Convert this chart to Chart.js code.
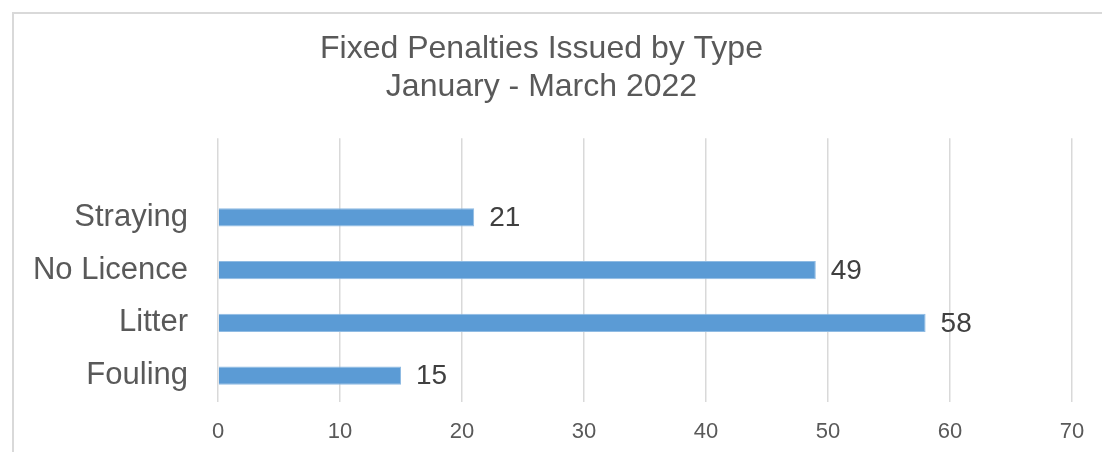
<!DOCTYPE html>
<html>
<head>
<meta charset="utf-8">
<script src="https://cdn.jsdelivr.net/npm/chart.js@4"></script>
<style>
    html, body { margin: 0; padding: 0; background: #fff; }
    #wrap { position: relative; width: 1102px; height: 452px; }
    #frame { position: absolute; left: 12px; top: 12px; right: -5px; bottom: -5px; border: 2px solid #d9d9d9; }
    canvas { position: absolute; left: 0; top: 0; }
</style>
</head>
<body>
<div id="wrap">
    <div id="frame"></div>
    <canvas id="penalidades" width="1102" height="452"></canvas>
</div>
<script>
// Dados do gráfico (linha vazia no topo, como no original)
const categorias = ['', 'Straying', 'No Licence', 'Litter', 'Fouling'];
const quantidades = [null, 21, 49, 58, 15];
const tituloLinhas = ['Fixed Penalties Issued by Type', 'January - March 2022'];
const escalaX = { min: 0, max: 70, passo: 10 };

const fonte = '"Liberation Sans", Arial, sans-serif';

// Rótulos de valor ao lado das barras
const rotulosValor = {
    id: 'rotulosValor',
    afterDatasetsDraw(chart) {
        const ctx = chart.ctx;
        const meta = chart.getDatasetMeta(0);
        ctx.save();
        ctx.font = '28px ' + fonte;
        ctx.fillStyle = '#404040';
        ctx.textBaseline = 'middle';
        ctx.textAlign = 'left';
        meta.data.forEach((barra, i) => {
            const v = quantidades[i];
            if (v === null) return;
            ctx.fillText(String(v), barra.x + 15, barra.y + 1);
        });
        ctx.restore();
    }
};

const ctx = document.getElementById('penalidades').getContext('2d');
const chart = new Chart(ctx, {
    type: 'bar',
    data: {
        labels: categorias,
        datasets: [{
            label: 'Fixed Penalties',
            data: quantidades,
            backgroundColor: '#5b9bd5',
            borderColor: '#8fbbe3',
            borderWidth: 1,
            categoryPercentage: 1,
            barPercentage: 0.35
        }]
    },
    options: {
        indexAxis: 'y',
        responsive: false,
        animation: false,
        layout: { padding: { left: 11, right: 30, top: 0, bottom: 0 } },
        plugins: {
            legend: { display: false },
            tooltip: { enabled: false },
            title: {
                display: true,
                text: tituloLinhas,
                color: '#595959',
                font: { family: fonte, size: 32, weight: 'normal', lineHeight: 1.16 },
                padding: { top: 31, bottom: 33 }
            }
        },
        scales: {
            x: {
                min: escalaX.min,
                max: escalaX.max,
                ticks: {
                    stepSize: escalaX.passo,
                    color: '#595959',
                    font: { family: fonte, size: 22 },
                    padding: 17
                },
                grid: { color: '#d9d9d9', lineWidth: 1.5, drawTicks: false },
                border: { display: false },
                afterFit: s => { s.height = 50; }
            },
            y: {
                ticks: {
                    color: '#595959',
                    font: { family: fonte, size: 31 },
                    padding: 30
                },
                grid: { display: false, drawTicks: false },
                border: { display: false },
                afterFit: s => { s.width = 207; }
            }
        }
    },
    plugins: [rotulosValor]
});
</script>
</body>
</html>
